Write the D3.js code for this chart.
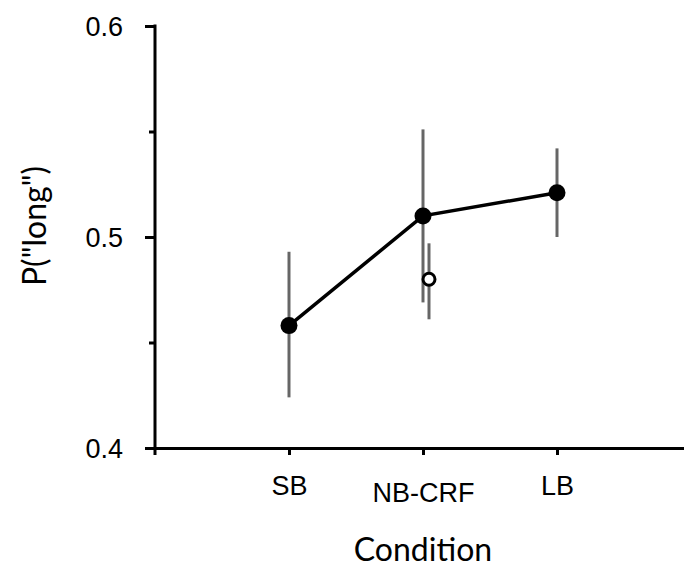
<!DOCTYPE html>
<html>
<head>
<meta charset="utf-8">
<script src="https://cdn.jsdelivr.net/npm/d3@7"></script>
<style>
  html, body { margin: 0; padding: 0; background: #fff; }
  svg { display: block; font-family: Lato, "Open Sans", sans-serif; }
</style>
</head>
<body>
<div id="chart"></div>
<script>
// data
const categories = ["SB", "NB-CRF", "LB"];
const means = [0.458, 0.510, 0.521];
const lower = [0.424, 0.469, 0.500];
const upper = [0.493, 0.551, 0.542];

// the open (comparison) point sits next to NB-CRF
const extraCategory = "NB-CRF";
const extraMean = 0.480;
const extraLower = 0.461;
const extraUpper = 0.497;

const yMajor = [0.4, 0.5, 0.6];
const yMinor = [0.45, 0.55];

const width = 684, height = 569;
const barColor = "#666666";

const svg = d3.select("#chart").append("svg")
    .attr("width", width)
    .attr("height", height);

// index 0 is the y axis, categories at 1..3
const x = d3.scaleLinear().domain([0, 4]).range([155, 691]);
const y = d3.scaleLinear().domain([0.4, 0.6]).range([448, 26]);
const xOf = c => x(categories.indexOf(c) + 1);

const rows = categories.map((c, i) => ({ cat: c, m: means[i], lo: lower[i], hi: upper[i] }));

// y axis
const yAxis = svg.append("g")
    .attr("transform", `translate(${x(0)},0)`)
    .call(d3.axisLeft(y).tickValues(yMajor).tickFormat(d3.format(".1f"))
        .tickSize(10).tickSizeOuter(0).tickPadding(22));
yAxis.select(".domain").attr("stroke-width", 3).attr("d", `M0,${y(0.6) - 1.5}V${y(0.4) + 7}`);
yAxis.selectAll(".tick line").attr("stroke-width", 3);
yAxis.selectAll("text").attr("font-size", 27).attr("fill", "#000").attr("dy", "0.36em");

svg.append("g")
    .attr("transform", `translate(${x(0)},0)`)
    .call(d3.axisLeft(y).tickValues(yMinor).tickFormat("").tickSize(6).tickSizeOuter(0))
    .call(g => g.select(".domain").remove())
    .selectAll(".tick line").attr("stroke-width", 3);

// x axis
const xAxis = svg.append("g")
    .attr("transform", `translate(0,${y(0.4)})`)
    .call(d3.axisBottom(x).tickValues([1, 2, 3]).tickFormat(d => categories[d - 1])
        .tickSize(7).tickSizeOuter(0));
xAxis.select(".domain").attr("stroke-width", 3);
xAxis.selectAll(".tick line").attr("stroke-width", 3);
xAxis.selectAll("text")
    .attr("font-size", 27).attr("fill", "#000")
    .attr("y", d => d === 2 ? 54 : 47).attr("dy", 0);

// axis titles
svg.append("text")
    .attr("x", x(2)).attr("y", 561)
    .attr("text-anchor", "middle")
    .attr("font-size", 32)
    .text("Condition");

svg.append("text")
    .attr("transform", `translate(46,226) rotate(-90)`)
    .attr("text-anchor", "middle")
    .attr("font-size", 32)
    .text('P("long")');

// error bars
svg.append("g").selectAll("line").data(rows).join("line")
    .attr("x1", d => xOf(d.cat)).attr("x2", d => xOf(d.cat))
    .attr("y1", d => y(d.hi)).attr("y2", d => y(d.lo))
    .attr("stroke", barColor).attr("stroke-width", 3);

const ox = xOf(extraCategory) + 6;
svg.append("line")
    .attr("x1", ox).attr("x2", ox)
    .attr("y1", y(extraUpper)).attr("y2", y(extraLower))
    .attr("stroke", barColor).attr("stroke-width", 3);

// connecting line
svg.append("path")
    .datum(rows)
    .attr("fill", "none")
    .attr("stroke", "#000")
    .attr("stroke-width", 3.5)
    .attr("d", d3.line().x(d => xOf(d.cat)).y(d => y(d.m)));

// points
svg.append("g").selectAll("circle").data(rows).join("circle")
    .attr("cx", d => xOf(d.cat)).attr("cy", d => y(d.m))
    .attr("r", 8.5).attr("fill", "#000");

svg.append("circle")
    .attr("cx", ox).attr("cy", y(extraMean))
    .attr("r", 6).attr("fill", "#fff")
    .attr("stroke", "#000").attr("stroke-width", 3);
</script>
</body>
</html>
